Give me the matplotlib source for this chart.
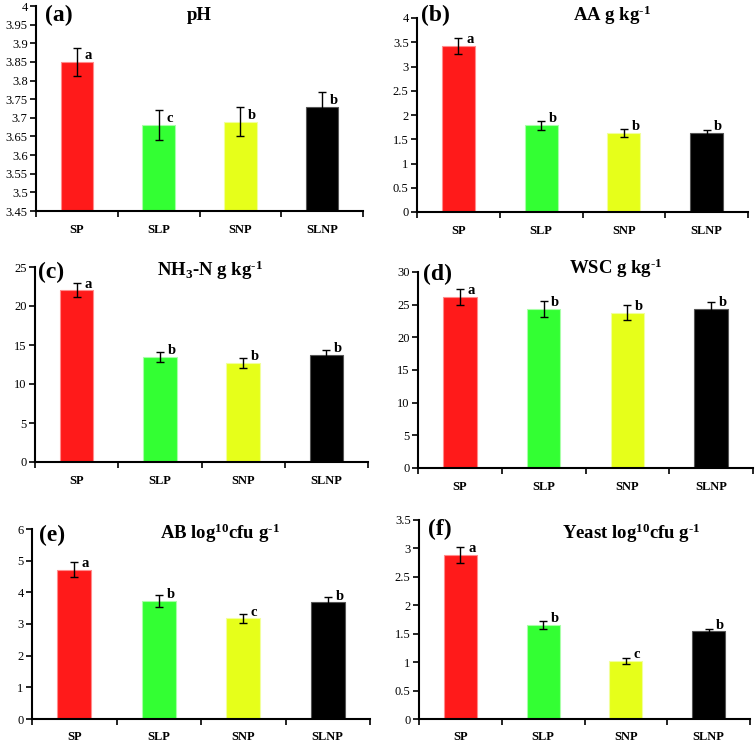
import numpy as np
import matplotlib
matplotlib.use('Agg')
import matplotlib.pyplot as plt

plt.rcParams['font.family'] = ['Liberation Serif', 'DejaVu Serif']
plt.rcParams['mathtext.default'] = 'regular'

groups = ['SP', 'SLP', 'SNP', 'SLNP']
colors = ['#ff1a1a', '#33ff33', '#e6ff1a', '#000000']
edges = ['#ff8c8c', '#a8ffa8', '#f2ff9c', '#555555']

ph = [3.85, 3.68, 3.69, 3.73]
ph_err = [0.037, 0.04, 0.04, 0.04]
ph_sig = ['a', 'c', 'b', 'b']

aa = [3.42, 1.79, 1.63, 1.63]
aa_err = [0.17, 0.09, 0.08, 0.07]
aa_sig = ['a', 'b', 'b', 'b']

nh3 = [22.0, 13.5, 12.7, 13.7]
nh3_err = [0.9, 0.65, 0.6, 0.7]
nh3_sig = ['a', 'b', 'b', 'b']

wsc = [26.2, 24.3, 23.8, 24.3]
wsc_err = [1.2, 1.2, 1.2, 1.1]
wsc_sig = ['a', 'b', 'b', 'b']

ab = [4.72, 3.73, 3.18, 3.68]
ab_err = [0.23, 0.18, 0.15, 0.17]
ab_sig = ['a', 'b', 'c', 'b']

yeast = [2.88, 1.65, 1.02, 1.54]
yeast_err = [0.14, 0.07, 0.05, 0.05]
yeast_sig = ['a', 'b', 'c', 'b']

W, H = 756, 744
hy = '\u2010'

panels = [
    # label, title, vals, errs, sig, ylim, ystep, axes box in px (l, t, r, b),
    # title centre (x frac, y frac), label (dx px, y frac)
    ('(a)', 'pH', ph, ph_err, ph_sig, (3.45, 4.0), 0.05,
     (36, 6, 363, 211), (0.50, 0.956), (9, 0.956)),
    ('(b)', 'AA g kg$^{' + hy + '1}$', aa, aa_err, aa_sig, (0, 4), 0.5,
     (417, 18, 748, 212), (0.59, 1.015), (4, 1.015)),
    ('(c)', 'NH$_3$-N g kg$^{' + hy + '1}$', nh3, nh3_err, nh3_sig, (0, 25), 5,
     (35, 267, 368, 462), (0.525, 0.985), (3, 0.97)),
    ('(d)', 'WSC g kg$^{' + hy + '1}$', wsc, wsc_err, wsc_sig, (0, 30), 5,
     (418, 272, 753, 468), (0.59, 1.02), (5, 0.985)),
    ('(e)', 'AB log$^{10}$cfu g$^{' + hy + '1}$', ab, ab_err, ab_sig, (0, 6), 1,
     (32, 529, 370, 719), (0.555, 0.979), (7, 0.968)),
    ('(f)', 'Yeast log$^{10}$cfu g$^{' + hy + '1}$', yeast, yeast_err, yeast_sig, (0, 3.5), 0.5,
     (419, 520, 750, 719), (0.64, 0.935), (9, 0.955)),
]

fig = plt.figure(figsize=(W / 100, H / 100), dpi=100)
x = np.arange(len(groups))

for lab, title, vals, errs, sig, ylim, step, box, tpos, lpos in panels:
    l, t, r, b = box
    ax = fig.add_axes([l / W, 1 - b / H, (r - l) / W, (b - t) / H])
    ax.bar(x, vals, width=0.4, color=colors, edgecolor=edges, linewidth=0.8,
           zorder=2)
    ax.errorbar(x, vals, yerr=errs, fmt='none', ecolor='black', elinewidth=1,
                capsize=3, capthick=1, zorder=3)
    for xi, v, s in zip(x, vals, sig):
        ax.annotate(s, (xi, v), xytext=(5.5, 2), textcoords='offset points',
                    ha='left', va='baseline', fontsize=10.5, fontweight='bold')
    ax.set_xlim(-0.5, 3.5)
    ax.set_ylim(*ylim)
    ticks = np.arange(ylim[0], ylim[1] + step / 2, step)
    ax.set_yticks(ticks)
    ax.set_yticklabels(['%g' % round(tk, 2) for tk in ticks], fontsize=9)
    ax.set_xticks(np.arange(-0.5, 4, 1))
    ax.set_xticklabels([])
    ax.set_xticks(x, minor=True)
    ax.set_xticklabels(groups, minor=True, fontsize=9, fontweight='bold')
    ax.tick_params(axis='x', which='minor', length=0, pad=9)
    ax.tick_params(axis='x', which='major', length=4, width=1.2, direction='out')
    ax.tick_params(axis='y', length=4, width=1.2, direction='out', pad=2)
    for sp in ['top', 'right']:
        ax.spines[sp].set_visible(False)
    for sp in ['left', 'bottom']:
        ax.spines[sp].set_linewidth(1.5)
    ax.text(lpos[0] / (r - l), lpos[1], lab, transform=ax.transAxes,
            ha='left', va='center', fontsize=17, fontweight='bold')
    ax.text(tpos[0], tpos[1], title, transform=ax.transAxes, ha='center',
            va='center', fontsize=13.5, fontweight='bold')

fig.savefig('out.png', dpi=100)
